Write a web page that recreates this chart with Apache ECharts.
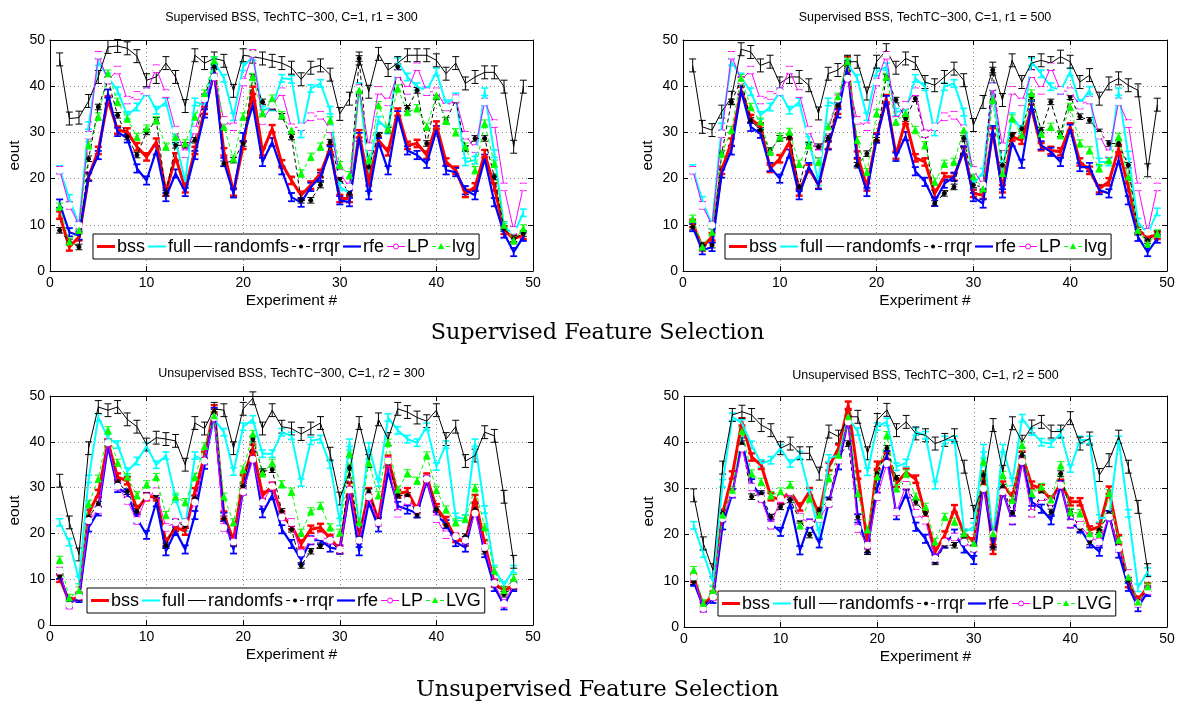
<!DOCTYPE html>
<html><head><meta charset="utf-8">
<script src="https://cdn.jsdelivr.net/npm/echarts@6/dist/echarts.min.js"></script>
<style>html,body{margin:0;padding:0;background:#fff}#c{width:1180px;height:702px}</style>
</head><body><div id="c"></div>
<script>
// ---------- data ----------
const xTicks = [0, 10, 20, 30, 40, 50];
const yTicks = [0, 10, 20, 30, 40, 50];
const seriesNamesTop = ['bss', 'full', 'randomfs', 'rrqr', 'rfe', 'LP', 'lvg'];
const seriesNamesBottom = ['bss', 'full', 'randomfs', 'rrqr', 'rfe', 'LP', 'LVG'];
const titles = ['Supervised BSS, TechTC\u2212300, C=1, r1 = 300', 'Supervised BSS, TechTC\u2212300, C=1, r1 = 500',
  'Unsupervised BSS, TechTC\u2212300, C=1, r2 = 300', 'Unsupervised BSS, TechTC\u2212300, C=1, r2 = 500'];
const captions = ['Supervised Feature Selection', 'Unsupervised Feature Selection'];
// half length of error bars, per series (bss, full, randomfs, rrqr, rfe, LP, lvg)
const errHalf = [0.8, 0.8, 1.4, 0.6, 0.9, 0.8, 0.8];

// Panel 1: supervised, r1 = 300 (49 experiments)
const p1_bss = [12.1,5.2,7.4,20.4,26.1,37,30.5,30.1,26.9,24.7,27.9,17.1,24.7,17.8,26.1,34.8,43.1,25.8,17.1,27.2,39.1,25.8,30.8,23.2,19.6,16.4,18.6,21.1,26.5,15.7,15.7,29.7,19.3,28.3,25.8,34.4,27.2,27.6,25.1,31.6,23.6,21.8,16.8,18.2,25.4,18.2,8.8,7,7.7];
const p1_full = [22,15.7,9.9,31.5,45.3,42,39,33.7,35.5,38.8,34.8,36.6,28.3,19.3,36.6,35.9,45.3,41.7,33.4,44.2,46.4,34.8,35.5,41.7,41.5,29.7,39.5,40.6,34.8,18.2,16.8,39.9,21.8,32.6,30.5,45.3,42,39.9,39.1,43.1,36.2,37.7,23.6,24,38.8,25.4,9.5,8,12.6];
const p1_randomfs = [45.8,33,33.2,36.8,42,48.5,48.7,48.2,46.5,41.3,42,45,42,35.7,46.7,45,46,45.5,39,46.7,46.4,46,45.5,45,44,41.5,44,44.5,42.5,34,37.3,46,38.8,47,43.5,45,46.7,46.7,46.7,45.6,42.7,45,40.6,42,43,43,39.9,26.9,39.9];
const p1_rrqr = [8.8,6.3,5.2,24.3,35.5,41.3,33.7,29,25.1,30.1,32.6,16.8,27.2,27.2,28.3,37.7,44.2,23.2,24,27.6,42,36.6,35.5,33.5,29,15.3,15.3,18.6,27.9,20,16.8,46,22.5,29.4,30.5,44.2,35.2,39.1,27.6,37.7,32.6,37,26.5,28.7,28.7,20.4,9.2,7,8.1];
const p1_rfe = [14.6,8.4,7.7,20.4,25.1,38.4,30.1,28.7,22.2,19.6,26.1,16,21.1,17.1,25.1,34.1,43.1,23.6,16.8,29,35.9,23.6,27.9,21.8,16,14.8,18.2,20.4,26.1,15.3,14.9,29,16.4,27.9,21.8,33.7,26.1,25.1,23.2,30.5,21.8,21.4,17.5,16.4,24.3,14.9,8.1,4.1,7.4];
const p1_LP = [21.8,14.2,9.9,29.4,46.7,41.3,43.5,37,38,38.8,43.8,38.4,30.5,25.4,30.5,37.3,42,32.6,31.2,40.9,47.1,32.6,35.9,38.8,31,31.2,33.4,33.7,30.8,21.1,18.2,39.5,26.9,39.1,36.6,42.7,39.1,44.2,38.8,38.8,35.5,37.3,29.4,26.5,36.6,31.9,18.2,8.8,18.2];
const p1_lvg = [13.9,6.3,8.8,27.2,33.4,42.7,36.6,33,29,30.8,32.6,26.9,29,27.6,33.4,38.4,45.6,31.2,24.3,33.4,42,34.1,37.3,33.7,30.5,21.1,24.7,26.9,32.6,22.9,20.7,39.1,24,35.9,30.8,39.5,34.4,35.2,31.2,38,32.5,30,26.9,21.8,31.9,23.2,9.9,6.6,9.2];

// Panel 2: supervised, r1 = 500 (49 experiments)
const p2_bss = [10.3,5.2,7.4,21.8,27.9,39.1,33,31.2,22.2,24.3,27.9,17.1,22.2,18.6,27.2,34.8,45.6,25.1,18.2,29,37.3,25.1,32.6,24.5,23.6,16.8,20.4,20.4,26.1,16.8,16.4,30.1,17.8,29,28.3,35.2,26.9,26.1,25.8,31.2,23.6,21.8,17.8,19.3,26.5,18.2,8.8,7.4,7.7];
const p2_full = [22.2,15.3,9.9,31.2,45.3,42,38.8,33.7,35.5,38.8,34.8,36.6,28.3,19.3,36.6,35.9,44.9,41.7,33.4,43.1,44.2,34.4,34.8,41.7,39.9,30.1,39.9,40.6,34.4,18.8,21.4,39.9,21.8,33.4,30.5,45.3,42.7,39.9,39.1,43.1,36.2,39.1,23.6,23.6,38.8,25.1,10.6,8.1,12.8];
const p2_randomfs = [44.5,31.2,30.5,34.5,37.5,48,47.4,44.5,45.3,40.6,42,42,40.2,34.1,42.7,43.5,45.3,45.3,38.4,45.3,47.8,44,46,45,40.9,40.2,42,43.8,41.3,31.6,36.6,43.8,37,45.6,40.9,45,45.6,45,46.4,45.3,40.9,42.4,37.3,40.6,41.7,40.2,39.1,21.8,36];
const p2_rrqr = [9.5,5.6,5.6,25.4,36.6,41.3,32.6,30.5,26.1,28.7,29,18.2,27.2,26.9,28.7,35.9,44.9,22.9,25.4,28.3,42,37,33,37.3,29.7,14.6,16.8,18.2,28.7,18.6,18.2,43.5,22.9,29.4,30.8,37.7,30.5,36.6,29.7,37.7,33.4,32.6,30.1,27.6,27.6,22.9,8.4,6.6,8.1];
const p2_rfe = [9.5,4.5,5.2,21.1,26.1,39.1,31.2,29.7,22.5,20,25.4,16.4,22.5,18.6,27.2,34.1,44.2,23.6,17.1,28.7,37,24.7,29.2,21.6,19.3,15,18.9,20.4,26.1,16,14.6,30.5,16.8,27.9,23.2,35.9,27.2,25.8,23.6,30.8,22.5,22.5,17.5,16.8,24,15.3,7.4,4.1,7];
const p2_LP = [21.8,14.2,9.9,29.7,46.7,41.3,43.5,37,38,38.8,43.5,38.4,30.5,25.4,30.5,37.3,41.7,32.6,31.2,40.9,46.7,32.6,35.9,38.8,29.7,31.2,33.4,33.7,30.8,21.8,18.6,39.9,26.9,39.1,36.6,42.7,39.1,44.2,39.1,38.8,35.9,37,29.4,25.4,36.6,31.9,18.2,8.4,18.2];
const p2_lvg = [11.3,5.2,8.4,25.4,30.5,41.7,35.5,32.3,25.8,29,30.1,23.2,27.2,23.6,31.2,37.7,45.3,28.3,21.4,34.1,42,32.3,34.1,30.5,27.2,19.3,23.2,23.6,30.5,20.4,17.8,37,21.1,33,29.4,38.4,29.7,31.2,29.4,35.5,27.6,26.1,22.2,24,29,20.4,8.8,5.9,8.1];

// Panel 3: unsupervised, r2 = 300 (48 experiments)
const p3_bss = [10.2,5.1,6.3,24.4,28.7,39.8,32.3,31.5,25.2,28,28,18.1,21.3,20.5,29.1,37,47.2,24,18.5,31.9,38.6,28.3,30.3,24,21.7,17.7,20.9,21.3,18.9,16.5,30.3,19.3,29.1,22.8,36.2,28.7,29.1,25.2,32.3,25.6,22.8,18.9,18.1,27.6,17.7,9.1,7.5,8.7];
const p3_full = [22.4,18.1,9.8,31.9,45.3,40.9,39.4,33.5,35.8,39,35,37,27.6,21.3,37,35.8,44.9,42.1,33.5,43.3,44.9,37.4,37.4,42.1,41.3,31.1,40.2,40.6,35,22.5,39.8,21.3,39,31.1,45.3,42.5,40.6,39.8,43.3,34.6,39.4,23.6,23.2,39.8,25.2,12.2,8.7,12.2];
const p3_randomfs = [31.5,22.4,15.4,38.6,47.6,46.9,47.6,44.9,43.3,39.4,40.9,40.6,40.2,35,44.1,42.9,47.2,46.9,38.6,47.2,49.5,42.9,46.9,43.3,42.9,41.7,42.9,44.1,37.4,27.6,33.5,44.1,35.8,44.9,40.6,47.2,46.5,45.3,44.5,46.9,40.6,43.3,35.8,37,42.1,41.3,28,13.8];
const p3_rrqr = [10.6,4.7,5.9,23.6,26.4,39.8,31.1,29.1,24.8,28.3,28.3,17.3,22.4,21.7,27.6,35.8,46.5,23.2,17.7,30.3,40.6,33.5,33.9,24.8,20.9,13,16.1,17.3,18.5,16.1,34.3,18.9,29.1,22.8,35.4,28.3,28.3,24,31.9,25.2,21.7,19.3,19.3,25.2,16.1,9.1,6.7,8.3];
const p3_rfe = [11,4.7,5.9,21.3,24.8,39,29.9,28.7,23.2,19.7,26.8,16.1,20.5,16.5,24,35,46.5,23.6,16.5,29.5,37,24.4,28.3,20.9,17.7,14.2,18.5,18.5,16.9,16.5,29.1,16.1,26.8,21.3,33.5,26,25.2,24.4,31.5,24,22,18.1,16.9,25.6,15.7,8.3,4.3,8.3];
const p3_LP = [11.8,4.3,6.3,22.8,25.2,39.8,30.3,27.2,22.8,28,29.1,21.3,22.4,22.4,26.8,35.8,45.3,21.3,18.1,29.1,36.2,26.8,30.3,23.6,22.4,15.7,18.5,19.3,18.5,16.5,29.5,18.5,28,22.4,35.8,24.4,27.2,25.2,31.9,23.2,19.7,19.3,18.5,24.4,16.9,9.1,4.7,8.7];
const p3_LVG = [14.2,5.9,7.5,26.4,31.9,42.5,35.4,32.3,28.3,30.7,32.3,24,28,26.8,32.3,39,45.7,28,22.4,33.9,41.7,33.1,35.4,30.7,29.1,20.1,24.8,26,21.3,20.1,37.4,22.4,35.4,28.3,39.8,29.5,33.1,31.5,37,29.5,25.2,22.4,23.2,29.9,21.3,11.8,7.5,10.2];

// Panel 4: unsupervised, r2 = 500 (48 experiments)
const p4_bss = [10.5,4.7,6.9,24.6,32.9,44.4,36.8,35,28.2,27.5,29.3,26,29.3,24.2,34.7,38.7,48,32.9,18.1,35,36.8,31.1,33.5,32,24.2,16.3,19.9,25.6,20.2,18.4,32.9,16.6,30.7,28.2,37.2,30.7,30,27.5,31.1,27.1,27.1,21,21.7,29.6,19.1,9.4,5.8,8.7];
const p4_full = [22,15.9,9.8,31.1,45.5,44.1,39.4,35.4,36.1,38.7,35.4,37.2,28.9,20.2,36.5,37.2,45.2,42.3,33.6,43.4,44.4,34.7,35.5,42.3,41.5,30.7,40.5,40.5,20.4,21.7,38.7,19.5,38.7,31.4,45.2,42.3,40,39.7,41.9,34.3,40.5,40.5,23.5,23.8,40.5,24.6,8.5,12];
const p4_randomfs = [28.5,18.1,12.3,34.5,45.9,46.6,45.9,43.7,42.6,38.7,39.7,37.6,37.6,33.2,42.3,41.2,45.5,45.5,37.6,44.8,47,42.6,44.4,41.9,41.5,39.7,40.5,41.5,34.7,24.9,31.1,43.7,33.6,44.1,40.1,43.4,44.4,42.3,42.3,45.2,39.7,40.8,32.9,36.1,41.2,34.7,26,12.3];
const p4_rrqr = [9.8,4.7,6.5,24.6,29.3,39.7,28.2,28.9,23.8,26,27.5,23.1,19.9,25.3,27.5,36.8,39.7,23.8,16.3,33.2,38.7,32.2,30.3,27,24.6,14.1,17.7,17.7,19.5,17,32.9,17.3,30.3,24.6,37.2,24.6,28.9,24.9,33.2,24.9,21.3,18.4,21,24.6,17.3,10.1,5.4,8.3];
const p4_rfe = [9.8,4.3,6.1,22,28.9,40.1,31.1,28.2,22.4,20.6,26.7,16.6,22.4,18.1,27.1,35,44.8,23.5,17,30,37.2,24.2,28.9,21.7,19.1,14.8,18.1,20.2,17,14.5,30.7,18.1,29.3,23.1,36.1,27.1,25.6,23.1,30.7,22.4,21.3,18.1,16.3,24.2,15.9,8.7,4.3,7.6];
const p4_LP = [10.8,4,6.5,23.5,28.9,38.7,30.3,27.8,22,27.8,29.3,23.8,22.4,23.5,26.7,36.1,44.4,21.3,17.7,28.2,35.4,24.9,30.7,24.6,23.1,14.8,18.4,19.5,18.4,17,30,20.2,29.3,23.1,35.8,24.6,28.2,27.1,30.7,22.4,22,19.5,18.4,23.8,17,11.6,5.1,7.9];
const p4_LVG = [12.3,5.1,7.9,24.2,29.6,42.3,33.2,31.4,28.5,29.3,30.7,22,27.8,24.2,32.2,37.2,45.5,28.9,21,32.5,41.5,30,33.2,28.2,26,18.4,23.8,22.8,20.2,18.1,35.8,20.2,32.9,27.5,39.4,28.9,30.3,27.5,35,24.9,24.6,20.2,20.2,28.9,18.8,10.8,5.4,8.7];

// ---------- styles / layout ----------
const FONT = 'Liberation Sans, Arial, Helvetica, sans-serif';
const seriesStyle = [
  {color: '#ff0000', width: 3, type: 'solid', symbol: 'none', size: 0},
  {color: '#00ffff', width: 2, type: 'solid', symbol: 'none', size: 0},
  {color: '#000000', width: 1, type: 'solid', symbol: 'none', size: 0},
  {color: '#000000', width: 1, type: [4, 3], symbol: 'circle', size: 4},
  {color: '#0000ff', width: 2.2, type: 'solid', symbol: 'none', size: 0},
  {color: '#ff00ff', width: 1, type: 'solid', symbol: 'emptyCircle', size: 5},
  {color: '#00ff00', width: 1, type: [4, 3], symbol: 'triangle', size: 6}
];
const panels = [
  {data: [p1_bss, p1_full, p1_randomfs, p1_rrqr, p1_rfe, p1_LP, p1_lvg], names: seriesNamesTop,
   grid: {left: 50, top: 40, width: 483, height: 231}, legend: {left: 93, top: 234}, titleY: 18},
  {data: [p2_bss, p2_full, p2_randomfs, p2_rrqr, p2_rfe, p2_LP, p2_lvg], names: seriesNamesTop,
   grid: {left: 683, top: 40, width: 484, height: 231}, legend: {left: 725, top: 234}, titleY: 18},
  {data: [p3_bss, p3_full, p3_randomfs, p3_rrqr, p3_rfe, p3_LP, p3_LVG], names: seriesNamesBottom,
   grid: {left: 50, top: 396, width: 483, height: 229}, legend: {left: 87, top: 588}, titleY: 374},
  {data: [p4_bss, p4_full, p4_randomfs, p4_rrqr, p4_rfe, p4_LP, p4_LVG], names: seriesNamesBottom,
   grid: {left: 684, top: 396, width: 483, height: 231}, legend: {left: 718, top: 591}, titleY: 376}
];

const grids = [], xAxes = [], yAxes = [], series = [], graphics = [];
const measureCtx = document.createElement('canvas').getContext('2d');
const LEG_FONT = '18px ' + FONT;

function errRenderer(color, lw) {
  return function (params, api) {
    const x = api.value(0), y = api.value(1), e = api.value(2);
    const lo = api.coord([x, y - e]), hi = api.coord([x, y + e]);
    const w = 3.5;
    const st = {stroke: color, lineWidth: lw, fill: null};
    return {type: 'group', children: [
      {type: 'line', shape: {x1: lo[0], y1: lo[1], x2: hi[0], y2: hi[1]}, style: st},
      {type: 'line', shape: {x1: lo[0] - w, y1: lo[1], x2: lo[0] + w, y2: lo[1]}, style: st},
      {type: 'line', shape: {x1: hi[0] - w, y1: hi[1], x2: hi[0] + w, y2: hi[1]}, style: st}
    ]};
  };
}

function markerGraphic(s, cx, cy) {
  if (s.symbol === 'circle') return {type: 'circle', shape: {cx: cx, cy: cy, r: 2}, style: {fill: s.color}, z: 102};
  if (s.symbol === 'emptyCircle') return {type: 'circle', shape: {cx: cx, cy: cy, r: 2.5}, style: {fill: '#fff', stroke: s.color, lineWidth: 1}, z: 102};
  if (s.symbol === 'triangle') return {type: 'polygon', shape: {points: [[cx, cy - 3.5], [cx + 3.2, cy + 2.5], [cx - 3.2, cy + 2.5]]}, style: {fill: s.color}, z: 102};
  return null;
}

function buildLegend(names, left, top) {
  measureCtx.font = LEG_FONT;
  const SAMPLE = 18, H = 25;
  const cy = top + H / 2;
  const items = [];
  let x = left + 4;
  names.forEach((n, si) => {
    const s = seriesStyle[si];
    items.push({type: 'line', shape: {x1: x, y1: cy, x2: x + SAMPLE, y2: cy},
      style: {stroke: s.color, lineWidth: s.width, lineDash: Array.isArray(s.type) ? s.type : null}, z: 101});
    const m = markerGraphic(s, x + SAMPLE / 2, cy);
    if (m) items.push(m);
    x += SAMPLE + 2;
    items.push({type: 'text', x: x, y: cy + 1, style: {text: n, font: LEG_FONT, fill: '#000', textVerticalAlign: 'middle'}, z: 101});
    x += measureCtx.measureText(n).width + (si < names.length - 1 ? 3 : 4);
  });
  graphics.push({type: 'rect', shape: {x: left, y: top, width: x - left, height: H},
    style: {fill: '#fff', stroke: '#000', lineWidth: 1}, z: 100});
  items.forEach(it => graphics.push(it));
}

panels.forEach((p, pi) => {
  grids.push(Object.assign({containLabel: false}, p.grid));
  const axBase = {
    type: 'value', min: xTicks[0], max: xTicks[xTicks.length - 1], interval: xTicks[1] - xTicks[0], gridIndex: pi,
    axisLine: {show: true, onZero: false, lineStyle: {color: '#000', width: 1}},
    axisTick: {show: true, inside: true, length: 5, lineStyle: {color: '#000'}}
  };
  xAxes.push(Object.assign({}, axBase, {
    position: 'bottom',
    axisLabel: {color: '#000', fontSize: 14, fontFamily: FONT, margin: 5},
    splitLine: {show: true, lineStyle: {type: [1, 3], color: '#888'}},
    name: 'Experiment #', nameLocation: 'middle', nameGap: 22,
    nameTextStyle: {color: '#000', fontSize: 15.5, fontFamily: FONT}
  }));
  xAxes.push(Object.assign({}, axBase, {position: 'top', axisLabel: {show: false}, splitLine: {show: false}}));
  const yBase = Object.assign({}, axBase, {min: yTicks[0], max: yTicks[yTicks.length - 1], interval: yTicks[1] - yTicks[0]});
  yAxes.push(Object.assign({}, yBase, {
    position: 'left',
    axisLabel: {color: '#000', fontSize: 14, fontFamily: FONT, margin: 5},
    splitLine: {show: true, lineStyle: {type: [1, 3], color: '#888'}},
    name: 'eout', nameLocation: 'middle', nameGap: 27, nameRotate: 90,
    nameTextStyle: {color: '#000', fontSize: 15.5, fontFamily: FONT}
  }));
  yAxes.push(Object.assign({}, yBase, {position: 'right', axisLabel: {show: false}, splitLine: {show: false}}));

  p.data.forEach((vals, si) => {
    const s = seriesStyle[si];
    series.push({
      type: 'line', name: p.names[si], xAxisIndex: pi * 2, yAxisIndex: pi * 2,
      data: vals.map((v, i) => [i + 1, v]),
      symbol: s.symbol, symbolSize: s.size, showSymbol: s.symbol !== 'none',
      lineStyle: {color: s.color, width: s.width, type: s.type},
      itemStyle: {color: s.symbol === 'emptyCircle' ? '#fff' : s.color, borderColor: s.color, borderWidth: 1},
      animation: false, silent: true, z: 2
    });
    series.push({
      type: 'custom', xAxisIndex: pi * 2, yAxisIndex: pi * 2,
      data: vals.map((v, i) => [i + 1, v, errHalf[si]]),
      encode: {x: 0, y: 1},
      renderItem: errRenderer(s.color, Math.max(1, s.width * 0.8)),
      animation: false, silent: true, z: 2
    });
  });

  graphics.push({
    type: 'text', x: p.grid.left + p.grid.width / 2, y: p.titleY,
    style: {text: titles[pi], fill: '#000', font: '12.5px ' + FONT, textAlign: 'center', textVerticalAlign: 'middle'}
  });
  buildLegend(p.names, p.legend.left, p.legend.top);
});

graphics.push({type: 'text', x: 597.5, y: 333,
  style: {text: captions[0], fill: '#000', font: '22.3px DejaVu Serif, serif', textAlign: 'center', textVerticalAlign: 'middle'}});
graphics.push({type: 'text', x: 597.5, y: 690,
  style: {text: captions[1], fill: '#000', font: '22.3px DejaVu Serif, serif', textAlign: 'center', textVerticalAlign: 'middle'}});

const chart = echarts.init(document.getElementById('c'), null, {renderer: 'canvas'});
chart.setOption({
  backgroundColor: '#fff',
  animation: false,
  grid: grids, xAxis: xAxes, yAxis: yAxes, series: series, graphic: graphics
});
</script></body></html>
